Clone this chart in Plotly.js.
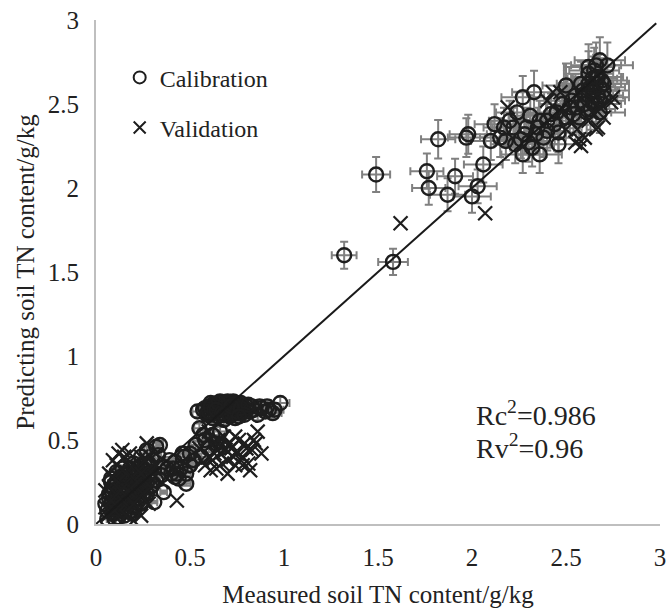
<!DOCTYPE html>
<html>
<head>
<meta charset="utf-8">
<script src="https://cdn.plot.ly/plotly-3.0.1.min.js"></script>
<style>html,body{margin:0;padding:0;background:#fff;}#chart{width:670px;height:609px;}</style>
</head>
<body>
<div id="chart"></div>
<script>
// Calibration set (measured x, predicted y)
var calX = [
  0.06,0.08,0.09,0.10,0.11,0.12,0.13,0.14,0.15,0.16,0.17,0.18,0.19,0.20,0.21,0.22,0.23,0.24,0.25,0.26,0.27,0.28,0.29,0.30,0.31,0.33,0.35,0.36,0.38,0.40,0.42,0.44,0.46,0.48,0.50,
  0.07,0.09,0.11,0.13,0.15,0.17,0.19,0.21,0.23,0.25,0.12,0.14,0.16,0.18,0.20,0.22,0.10,0.08,0.24,0.27,0.29,0.32,0.34,0.10,0.15,
  0.05,0.07,0.08,0.09,0.10,0.11,0.12,0.13,0.14,0.15,0.16,0.17,0.18,0.19,0.20,0.21,0.22,0.23,0.24,0.25,0.26,0.27,0.28,0.06,0.09,0.11,0.13,0.15,0.17,0.19,0.21,0.23,0.25,0.14,0.18,0.22,0.26,0.30,0.12,0.16,0.20,0.08,0.10,0.24,0.28,0.32,0.36,0.39,0.41,0.43,
  0.54,0.57,0.59,0.60,0.61,0.62,0.63,0.64,0.65,0.66,0.67,0.68,0.69,0.70,0.71,0.72,0.73,0.74,0.75,0.76,0.77,0.78,0.80,0.82,0.84,0.86,0.88,0.90,0.92,0.94,0.98,0.62,0.65,0.68,0.71,0.74,0.77,0.66,0.70,0.73,
  0.58,0.60,0.62,0.64,0.66,0.68,0.70,0.72,0.74,0.76,0.78,0.80,0.63,0.67,0.71,0.75,0.79,0.61,0.69,0.73,0.83,0.87,0.91,0.95,
  0.59,0.61,0.63,0.65,0.67,0.69,0.71,0.73,0.75,0.77,0.79,0.81,0.64,0.68,0.72,0.76,
  0.55,0.50,0.52,0.58,0.62,0.66,0.45,0.48,0.60,0.42,0.53,0.56,0.64,0.68,0.57,0.50,0.47,
  1.32,1.58,1.49,1.82,1.97,1.98,1.76,1.77,1.91,1.87,2.03,2.00,2.06,2.66,2.72,2.50,2.33,2.27,2.20,2.17,2.31,2.36,2.26,2.38,2.46,2.46,2.36,2.27,2.23,2.52,2.57,2.70,2.68,
  2.60,2.62,2.63,2.64,2.65,2.66,2.67,2.61,2.64,2.66,2.68,2.69,2.62,2.65,2.59,2.55,2.58,2.70,2.63,2.67,2.44,2.40,2.30,2.34,2.42,2.48,2.53,2.29,2.12,2.24,2.18,
  2.56,2.58,2.60,2.62,2.64,2.66,2.68,2.70,2.54,2.50,2.45,2.40,2.35,2.32,2.28,2.22,2.15,2.10,2.62,2.68
];
var calY = [
  0.08,0.12,0.06,0.15,0.10,0.20,0.14,0.09,0.22,0.18,0.12,0.26,0.16,0.21,0.30,0.19,0.25,0.28,0.17,0.32,0.24,0.35,0.22,0.38,0.13,0.41,0.29,0.19,0.33,0.30,0.37,0.27,0.42,0.24,0.35,
  0.18,0.22,0.25,0.28,0.13,0.30,0.08,0.11,0.15,0.22,0.04,0.33,0.27,0.07,0.36,0.13,0.03,0.27,0.40,0.44,0.31,0.46,0.47,0.11,0.05,
  0.12,0.15,0.20,0.10,0.24,0.17,0.08,0.21,0.26,0.17,0.08,0.22,0.15,0.29,0.10,0.25,0.33,0.20,0.12,0.30,0.26,0.18,0.30,0.03,0.06,0.31,0.18,0.29,0.14,0.24,0.19,0.31,0.16,0.20,0.33,0.26,0.35,0.23,0.14,0.23,0.17,0.25,0.09,0.20,0.36,0.26,0.34,0.38,0.33,0.30,
  0.67,0.68,0.66,0.70,0.65,0.69,0.71,0.67,0.70,0.66,0.72,0.68,0.70,0.67,0.71,0.69,0.73,0.66,0.70,0.68,0.72,0.69,0.70,0.67,0.68,0.65,0.69,0.67,0.68,0.66,0.72,0.63,0.64,0.62,0.64,0.63,0.66,0.73,0.73,0.72,
  0.69,0.67,0.71,0.69,0.68,0.70,0.69,0.68,0.71,0.66,0.70,0.68,0.66,0.69,0.66,0.72,0.67,0.72,0.72,0.70,0.70,0.70,0.70,0.68,
  0.65,0.70,0.68,0.72,0.66,0.67,0.65,0.71,0.67,0.69,0.65,0.71,0.68,0.65,0.70,0.64,
  0.57,0.42,0.38,0.50,0.53,0.55,0.33,0.30,0.45,0.28,0.47,0.40,0.48,0.46,0.53,0.35,0.40,
  1.60,1.56,2.08,2.29,2.30,2.32,2.10,2.00,2.07,1.96,2.01,1.95,2.14,2.73,2.73,2.61,2.57,2.54,2.40,2.36,2.43,2.40,2.29,2.30,2.33,2.26,2.20,2.20,2.26,2.48,2.42,2.54,2.45,
  2.50,2.55,2.60,2.65,2.58,2.62,2.66,2.45,2.52,2.50,2.60,2.64,2.68,2.70,2.58,2.55,2.62,2.58,2.47,2.55,2.38,2.34,2.27,2.32,2.44,2.50,2.52,2.36,2.38,2.45,2.28,
  2.48,2.52,2.56,2.62,2.58,2.66,2.52,2.62,2.44,2.42,2.45,2.40,2.36,2.24,2.32,2.36,2.30,2.28,2.72,2.76
];
// Validation set
var valX = [
  0.06,0.08,0.10,0.12,0.14,0.16,0.18,0.20,0.22,0.24,0.27,0.26,0.28,0.30,0.20,0.24,0.05,0.07,0.09,0.43,0.35,0.12,0.16,0.32,0.18,
  0.05,0.07,0.09,0.11,0.13,0.15,0.17,0.19,0.21,0.23,0.25,0.10,0.14,0.18,0.22,0.26,0.29,0.31,0.08,0.12,0.16,0.20,0.24,0.13,0.17,
  0.55,0.58,0.60,0.62,0.64,0.66,0.68,0.70,0.72,0.74,0.76,0.78,0.80,0.82,0.84,0.86,0.88,0.70,0.75,0.65,0.60,0.78,
  0.56,0.59,0.61,0.63,0.67,0.69,0.71,0.73,0.77,0.79,0.81,0.83,0.85,0.62,0.66,0.74,
  1.62,2.07,2.66,2.74,2.57,2.58,2.47,2.43,2.70,2.19,2.47,2.67,2.75,2.50,2.55,2.62,2.60,
  2.64,2.56,2.52,2.68,2.40
];
var valY = [
  0.05,0.10,0.18,0.25,0.44,0.30,0.08,0.35,0.15,0.40,0.48,0.22,0.12,0.30,0.02,0.05,0.20,0.30,0.38,0.14,0.25,0.05,0.12,0.42,0.22,
  0.10,0.22,0.28,0.35,0.15,0.40,0.20,0.28,0.10,0.32,0.18,0.08,0.32,0.42,0.25,0.38,0.22,0.36,0.14,0.42,0.05,0.12,0.30,0.20,0.36,
  0.45,0.35,0.40,0.48,0.33,0.42,0.52,0.38,0.45,0.35,0.50,0.40,0.45,0.32,0.50,0.55,0.42,0.30,0.42,0.50,0.55,0.35,
  0.38,0.50,0.32,0.42,0.36,0.44,0.48,0.40,0.38,0.48,0.36,0.44,0.48,0.38,0.46,0.52,
  1.79,1.85,2.35,2.51,2.29,2.25,2.46,2.57,2.42,2.48,2.57,2.36,2.54,2.35,2.27,2.40,2.30,
  2.45,2.35,2.40,2.48,2.52
];
// 1:1 reference line
var lineX = [0, 2.98];
var lineY = [0, 2.98];
var tickVals = [0, 0.5, 1, 1.5, 2, 2.5, 3];
var tickText = ['0', '0.5', '1', '1.5', '2', '2.5', '3'];
var statsText = ['Rc<sup>2</sup>=0.986', 'Rv<sup>2</sup>=0.96'];

var FONT = 'Liberation Serif, Times New Roman, serif';

var traces = [
  {
    x: calX, y: calY, type: 'scatter', mode: 'markers', name: 'Calibration',
    legendgroup: 'a',
    marker: {symbol: 'circle-open', size: 14, color: '#1e1e1e', line: {width: 2.4, color: '#1e1e1e'}},
    error_x: {type: 'percent', value: 5, color: '#808080', thickness: 2, width: 4},
    error_y: {type: 'percent', value: 5, color: '#808080', thickness: 2, width: 4}
  },
  {
    x: valX, y: valY, type: 'scatter', mode: 'markers', name: 'Validation',
    legendgroup: 'b',
    marker: {symbol: 'x-thin-open', size: 14, color: '#1e1e1e', line: {width: 2.2, color: '#1e1e1e'}}
  },
  {
    x: lineX, y: lineY, type: 'scatter', mode: 'lines', showlegend: false,
    line: {color: '#1a1a1a', width: 2}, hoverinfo: 'skip'
  }
];

var axisCommon = {
  range: [0, 3], tickvals: tickVals, ticktext: tickText,
  showgrid: false, zeroline: false, showline: true,
  linecolor: '#bfbfbf', linewidth: 2,
  ticks: 'outside', ticklen: 10, tickcolor: 'rgba(0,0,0,0)',
  tickfont: {family: FONT, size: 25, color: '#222'}
};

var layout = {
  width: 670, height: 609,
  margin: {l: 96, r: 10, t: 20, b: 85},
  paper_bgcolor: '#ffffff', plot_bgcolor: '#ffffff',
  font: {family: FONT, color: '#222'},
  showlegend: true,
  legend: {
    x: 0.042, y: 0.93, xanchor: 'left', yanchor: 'top',
    font: {family: FONT, size: 24, color: '#222'},
    traceorder: 'grouped', tracegroupgap: 16,
    bgcolor: 'rgba(0,0,0,0)', itemsizing: 'constant'
  },
  xaxis: Object.assign({}, axisCommon, {
    title: {text: 'Measured soil TN content/g/kg', font: {family: FONT, size: 25, color: '#222'}, standoff: 15}
  }),
  yaxis: Object.assign({}, axisCommon, {
    title: {text: 'Predicting soil TN content/g/kg', font: {family: FONT, size: 25, color: '#222'}, standoff: 6}
  }),
  annotations: [
    {xref: 'paper', yref: 'paper', x: 0.67, y: 0.22, xanchor: 'left', yanchor: 'middle', showarrow: false,
     text: statsText[0], font: {family: FONT, size: 28, color: '#222'}},
    {xref: 'paper', yref: 'paper', x: 0.67, y: 0.153, xanchor: 'left', yanchor: 'middle', showarrow: false,
     text: statsText[1], font: {family: FONT, size: 28, color: '#222'}}
  ]
};

Plotly.newPlot('chart', traces, layout, {displayModeBar: false, staticPlot: true});
</script>
</body>
</html>
